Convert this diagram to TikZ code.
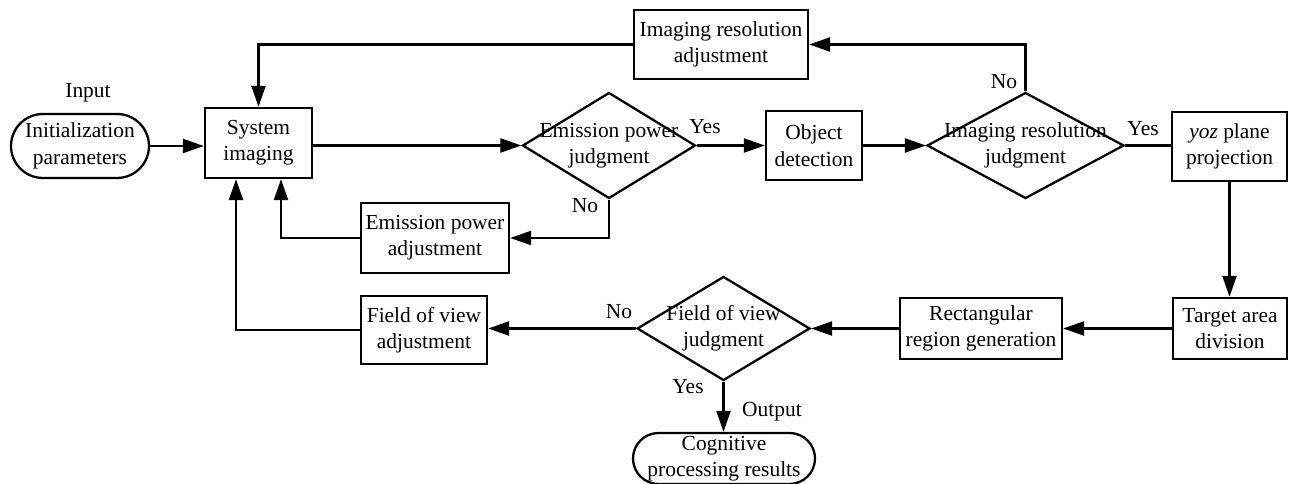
\documentclass[tikz,border=0pt]{standalone}
\usepackage{fontspec}
\setmainfont{Liberation Serif}
\usepackage{tikz}
\usetikzlibrary{shapes.geometric,shapes.misc,arrows.meta,positioning}

\begin{document}
\begin{tikzpicture} [
      font = \fontsize{12.2}{15}\selectfont,
      line width = 1.3pt,
      box/.style = { draw, rectangle, align = center, inner sep = 0 },
      term/.style = { draw, rounded rectangle, align = center, inner sep = 0 },
      decision/.style = { draw, diamond, inner sep = 0 },
      txt/.style = { align = center, inner sep = 0 },
      arr/.style = { -{Triangle[length=0.42cm, width=0.28cm]} }
      ]
    \useasboundingbox (0,0) rectangle (25.86,-9.68);

    % top row
    \node [term, minimum width = 2.76cm, minimum height = 1.28cm] (init) at (1.60,-2.92) {Initialization\\parameters};
    \node [box, minimum width = 2.14cm, minimum height = 1.40cm] (sys) at (5.17,-2.86) {System\\imaging};
    \node [decision, minimum width = 3.46cm, minimum height = 2.12cm,
           label = {[txt]center:Emission power\\judgment}] (epj) at (12.18,-2.91) {};
    \node [box, minimum width = 1.92cm, minimum height = 1.38cm] (od) at (16.28,-2.91) {Object\\detection};
    \node [decision, minimum width = 3.94cm, minimum height = 2.12cm,
           label = {[txt]center:Imaging resolution\\judgment}] (irj) at (20.51,-2.91) {};
    \node [box, minimum width = 2.30cm, minimum height = 1.38cm] (yoz) at (24.59,-2.93) {\textit{yoz} plane\\projection};
    \node [box, minimum width = 3.48cm, minimum height = 1.38cm] (ira) at (14.42,-0.89) {Imaging resolution\\adjustment};
    \node [box, minimum width = 2.96cm, minimum height = 1.40cm] (epa) at (8.70,-4.76) {Emission power\\adjustment};

    % bottom row
    \node [box, minimum width = 2.28cm, minimum height = 1.22cm] (tad) at (24.60,-6.57) {Target area\\division};
    \node [box, minimum width = 3.24cm, minimum height = 1.22cm] (rrg) at (19.62,-6.57) {Rectangular\\region generation};
    \node [decision, minimum width = 3.46cm, minimum height = 2.08cm,
           label = {[txt]center:Field of view\\judgment}] (fovj) at (14.47,-6.57) {};
    \node [box, minimum width = 2.52cm, minimum height = 1.36cm] (fova) at (8.48,-6.60) {Field of view\\adjustment};
    \node [term, minimum width = 3.64cm, minimum height = 1.02cm] (cog) at (14.48,-9.17) {Cognitive\\processing results};

    % labels
    \node [txt] (input) at (1.76,-1.86) {Input};
    \node [txt] (output) at (15.44,-8.24) {Output};
    \node [txt] (yes1) at (14.10,-2.54) {Yes};
    \node [txt] (no1) at (11.70,-4.12) {No};
    \node [txt] (no2) at (20.08,-1.64) {No};
    \node [txt] (yes2) at (22.86,-2.58) {Yes};
    \node [txt] (no3) at (12.38,-6.24) {No};
    \node [txt] (yes3) at (13.76,-7.74) {Yes};

    % connectors
    \draw [arr] (init.east) -- (init.east -| sys.west);
    \draw [arr] (sys.east |- epj.west) -- (epj.west);
    \draw [arr] (epj.east) -- (od.west |- epj.east);
    \draw [arr] (od.east |- irj.west) -- (irj.west);
    \draw (irj.east) -- (yoz.west |- irj.east);
    \draw [arr] (yoz.south) -- (yoz.south |- tad.north);
    \draw [arr] (tad.west) -- (rrg.east);
    \draw [arr] (rrg.west) -- (fovj.east);
    \draw [arr] (fovj.west) -- (fovj.west -| fova.east);
    \draw [arr] (fovj.south) -- (fovj.south |- cog.north);
    \draw [arr] (fova.west) -| ([xshift=-0.45cm]sys.south);
    \draw [arr] (epj.south) |- (epa.east);
    \draw [arr] (epa.west) -| ([xshift=0.45cm]sys.south);
    \draw [arr] (irj.north) |- (ira.east);
    \draw [arr] (ira.west) -| (sys.north);
\end{tikzpicture}
\end{document}
